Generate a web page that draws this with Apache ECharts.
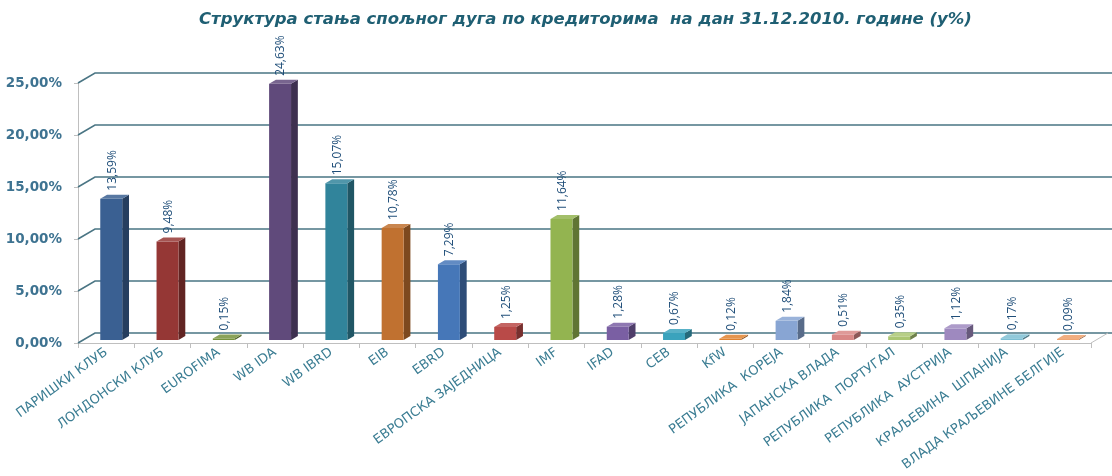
<!DOCTYPE html>
<html>
<head>
<meta charset="utf-8">
<script src="https://cdn.jsdelivr.net/npm/echarts@6/dist/echarts.min.js"></script>
<style>html,body{margin:0;padding:0;background:#fff}#c{width:1112px;height:476px}</style>
</head>
<body>
<div id="c"></div>
<script>
const titleText = 'Структура стања спољног дуга по кредиторима  на дан 31.12.2010. године (у%)';
const categories = ['ПАРИШКИ КЛУБ','ЛОНДОНСКИ КЛУБ','EUROFIMA','WB IDA','WB IBRD','EIB','EBRD','ЕВРОПСКА ЗАЈЕДНИЦА','IMF','IFAD','CEB','KfW','РЕПУБЛИКА  КОРЕЈА','ЈАПАНСКА ВЛАДА','РЕПУБЛИКА  ПОРТУГАЛ','РЕПУБЛИКА  АУСТРИЈА','КРАЉЕВИНА  ШПАНИЈА','ВЛАДА КРАЉЕВИНЕ БЕЛГИЈЕ'];
const values = [13.59, 9.48, 0.15, 24.63, 15.07, 10.78, 7.29, 1.25, 11.64, 1.28, 0.67, 0.12, 1.84, 0.51, 0.35, 1.12, 0.17, 0.09];
const yTicks = [0, 5, 10, 15, 20, 25];
const barColors = ['#3a6092','#953735','#77933c','#604a7b','#31849b','#c07130','#4677b8','#b94a48','#93b450','#7a5fa3','#3aa3bd','#e0822f','#88a5d3','#d98886','#abc673','#9e89bf','#7dbfd4','#eea06a'];

const DX = 17, DY = -10;
function shade(hex, f) {
  const n = parseInt(hex.slice(1), 16);
  let r = (n >> 16) & 255, g = (n >> 8) & 255, b = n & 255;
  if (f < 0) { r = r * (1 + f); g = g * (1 + f); b = b * (1 + f); }
  else { r = r + (255 - r) * f; g = g + (255 - g) * f; b = b + (255 - b) * f; }
  return 'rgb(' + Math.round(r) + ',' + Math.round(g) + ',' + Math.round(b) + ')';
}
function fmt(v) { return v.toFixed(2).replace('.', ',') + '%'; }

const chart = echarts.init(document.getElementById('c'));
chart.setOption({
  animation: false,
  title: {
    text: titleText, left: 194, top: 6,
    textStyle: { fontFamily: 'DejaVu Sans', fontSize: 16.5, fontWeight: 'bold', fontStyle: 'italic', color: '#1f5f73' }
  },
  grid: { left: 78, right: 21, top: 83, bottom: 133 },
  xAxis: {
    type: 'category', data: categories,
    axisLine: { lineStyle: { color: '#bfbfbf', width: 1 } },
    axisTick: { show: true, length: 5, lineStyle: { color: '#bfbfbf' } },
    axisLabel: { interval: 0, rotate: 36, margin: 8, fontFamily: 'DejaVu Sans', fontSize: 13, color: '#3b7d93' },
    splitLine: { show: false }
  },
  yAxis: {
    type: 'value', min: 0, max: 25, interval: 5,
    axisLine: { show: true, lineStyle: { color: '#bfbfbf' } },
    axisTick: { show: true, length: 4, lineStyle: { color: '#bfbfbf' } },
    axisLabel: { formatter: fmt, margin: 16, fontFamily: 'DejaVu Sans', fontSize: 13.5, fontWeight: 'bold', color: '#3e7391' },
    splitLine: { show: false }
  },
  series: [
    {
      type: 'custom', clip: false, z: 1,
      data: yTicks.map(v => [0, v]),
      encode: { x: 0, y: 1 },
      renderItem: function (params, api) {
        const v = api.value(1);
        const bw = api.size([1, 0])[0];
        const p = api.coord([0, v]);
        const xl = p[0] - bw / 2;
        const xr = api.getWidth();
        const children = [{
          type: 'polyline',
          shape: { points: [[xl, p[1]], [xl + DX, p[1] + DY], [xr, p[1] + DY]] },
          style: { stroke: '#4a7584', lineWidth: 1.6, fill: null }
        }];
        if (v === 0) {
          const q = api.coord([categories.length - 1, 0]);
          const xe = q[0] + bw / 2;
          children.push({
            type: 'line',
            shape: { x1: xe, y1: q[1], x2: xe + DX, y2: q[1] + DY },
            style: { stroke: '#bfbfbf', lineWidth: 1 }
          });
        }
        return { type: 'group', children: children };
      }
    },
    {
      type: 'custom', clip: false, z: 3,
      data: values.map((v, i) => [i, v]),
      encode: { x: 0, y: 1 },
      renderItem: function (params, api) {
        const i = api.value(0), v = api.value(1);
        const bw = api.size([1, 0])[0];
        const base = api.coord([i, 0]);
        const top = api.coord([i, v]);
        const w = bw * 0.39;
        const cx = base[0] + 0.3 * DX;
        const fy = 0.3 * DY;
        const ddx = 0.4 * DX, ddy = 0.4 * DY;
        const xl = cx - w / 2, xr = cx + w / 2;
        const yb = base[1] + fy, yt = top[1] + fy;
        const c = barColors[i % barColors.length];
        return {
          type: 'group',
          children: [
            { type: 'polygon', shape: { points: [[xr, yt], [xr + ddx, yt + ddy], [xr + ddx, yb + ddy], [xr, yb]] },
              style: { fill: shade(c, -0.35) } },
            { type: 'rect', shape: { x: xl, y: yt, width: w, height: Math.max(yb - yt, 0.5) },
              style: { fill: c } },
            { type: 'polygon', shape: { points: [[xl, yt], [xl + ddx, yt + ddy], [xr + ddx, yt + ddy], [xr, yt]] },
              style: { fill: shade(c, 0.15) } },
            { type: 'text', x: cx + 1, y: yt + ddy - 4, rotation: Math.PI / 2,
              style: { text: fmt(v), textAlign: 'left', textVerticalAlign: 'middle', fontFamily: 'Open Sans', fontSize: 12, fill: '#1f4e79' } }
          ]
        };
      }
    }
  ]
});
</script>
</body>
</html>
